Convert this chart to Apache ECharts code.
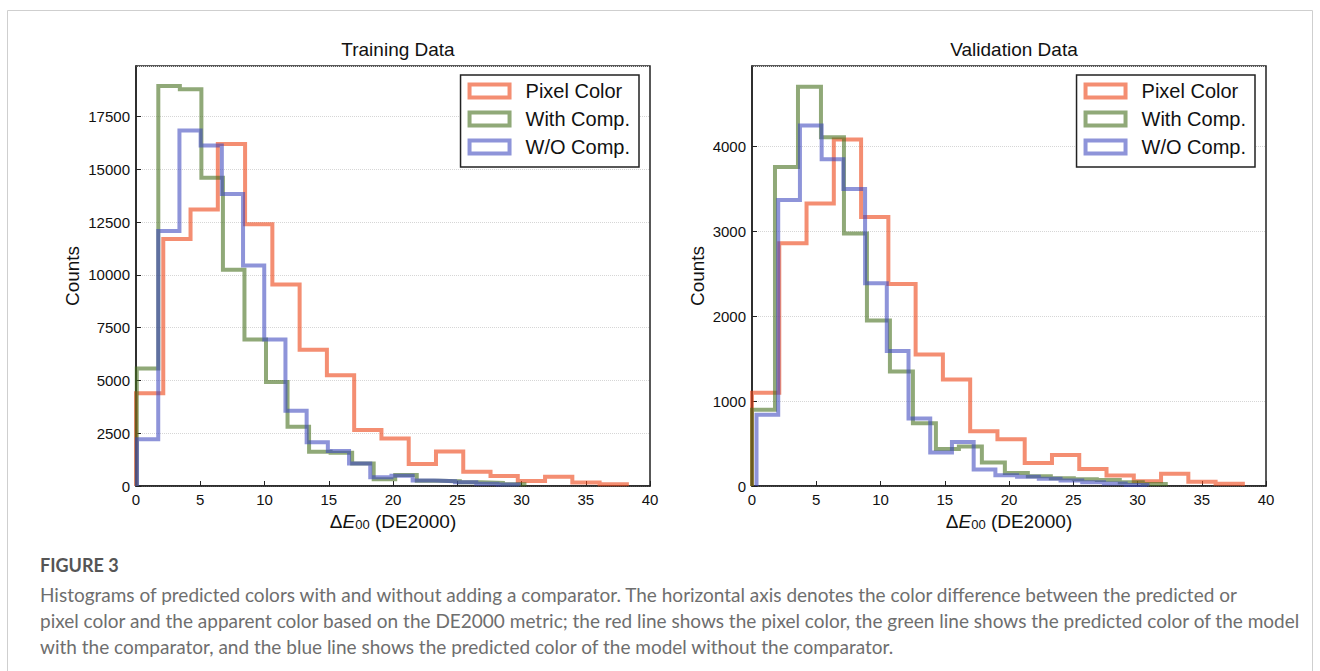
<!DOCTYPE html>
<html>
<head>
<meta charset="utf-8">
<script src="https://cdn.jsdelivr.net/npm/echarts@6/dist/echarts.min.js"></script>
<style>
html,body{margin:0;padding:0;background:#fff;}
#c{width:1320px;height:671px;}
</style>
</head>
<body>
<div id="c"></div>
<script>
// ---------- DATA ----------
const seriesNames = ['Pixel Color', 'With Comp.', 'W/O Comp.'];
const xTicks = [0, 5, 10, 15, 20, 25, 30, 35, 40];
const trainYTicks = [0, 2500, 5000, 7500, 10000, 12500, 15000, 17500];
const valYTicks = [0, 1000, 2000, 3000, 4000];

// Training data histograms: [min, max] of bin range and counts per bin (18 bins each)
const trainPixelRange = [0, 38.2];
const trainPixelCounts = [4400, 11700, 13100, 16200, 12400, 9550, 6450, 5250, 2650, 2250, 1040, 1630, 680, 470, 240, 440, 170, 80];
const trainWithRange = [0.06, 30.23];
const trainWithCounts = [5570, 18950, 18800, 14600, 10250, 6940, 4930, 2810, 1620, 1580, 1070, 320, 520, 250, 230, 180, 150, 80];
const trainWoRange = [0.08, 29.78];
const trainWoCounts = [2210, 12080, 16840, 16130, 13840, 10450, 6940, 3560, 2070, 1660, 1070, 410, 490, 260, 230, 180, 110, 70];

// Validation data histograms
const valPixelRange = [0, 38.2];
const valPixelCounts = [1100, 2860, 3330, 4085, 3170, 2380, 1550, 1255, 645, 550, 270, 365, 200, 125, 55, 143, 50, 26];
const valWithRange = [0, 32.2];
const valWithCounts = [900, 3760, 4705, 4110, 2975, 1950, 1350, 740, 435, 466, 278, 154, 115, 90, 80, 70, 45, 25];
const valWoRange = [0.35, 30.77];
const valWoCounts = [840, 3370, 4250, 3850, 3500, 2390, 1590, 797, 395, 520, 193, 126, 110, 85, 65, 45, 30, 12];

const colors = ['rgba(238,72,28,0.62)', 'rgba(70,112,30,0.6)', 'rgba(60,70,190,0.58)'];

// ---------- helpers ----------
function histPoints(range, counts) {
  const n = counts.length;
  const w = (range[1] - range[0]) / n;
  const pts = [[range[0], 0]];
  for (let i = 0; i < n; i++) pts.push([range[0] + i * w, counts[i]]);
  pts.push([range[1], counts[n - 1]]);
  pts.push([range[1], 0]);
  return pts;
}

const FONT = 'Liberation Sans, Arial, sans-serif';
const chart = echarts.init(document.getElementById('c'), null, {renderer: 'svg'});

function makeX(idx) {
  return {
    gridIndex: idx, type: 'value', min: 0, max: 40, interval: 5,
    name: '{d|Δ}{e|E}{s|00}{d| (DE2000)}', nameLocation: 'middle', nameGap: 21,
    nameTextStyle: {rich: {
      d: {fontSize: 19, fontFamily: FONT, color: '#111', verticalAlign: 'bottom', lineHeight: 22},
      e: {fontSize: 19, fontFamily: FONT, fontStyle: 'italic', color: '#111', verticalAlign: 'bottom', lineHeight: 22},
      s: {fontSize: 13, fontFamily: FONT, color: '#111', verticalAlign: 'bottom', lineHeight: 12}
    }},
    axisLine: {show: true, lineStyle: {color: '#222', width: 1.5}},
    axisTick: {show: true, inside: true, length: 5, lineStyle: {color: '#222', width: 1}},
    axisLabel: {fontSize: 15, fontFamily: FONT, color: '#111', margin: 6,
      formatter: v => xTicks.includes(v) ? String(v) : ''},
    splitLine: {show: false}
  };
}
function makeY(idx, max, interval, ticks, gap) {
  return {
    gridIndex: idx, type: 'value', min: 0, max: max, interval: interval,
    name: 'Counts', nameLocation: 'middle', nameGap: gap,
    nameTextStyle: {fontSize: 19, fontFamily: FONT, color: '#111'},
    axisLine: {show: true, lineStyle: {color: '#222', width: 1.5}},
    axisTick: {show: true, inside: true, length: 5, lineStyle: {color: '#222', width: 1}},
    axisLabel: {fontSize: 15, fontFamily: FONT, color: '#111', margin: 6, showMaxLabel: false,
      formatter: v => ticks.includes(v) ? String(v) : ''},
    splitLine: {show: true, lineStyle: {color: '#d6d6d6', width: 1, type: 'dotted'}}
  };
}
function makeSeries(name, xi, pts, color) {
  return {
    name: name, type: 'line', xAxisIndex: xi, yAxisIndex: xi, data: pts,
    step: 'end', showSymbol: false, symbol: 'none', animation: false,
    lineStyle: {color: color, width: 4, join: 'miter', cap: 'butt'},
    itemStyle: {color: color}
  };
}
function makeLegend(right) {
  return {
    orient: 'vertical', right: right, top: 75,
    itemWidth: 40, itemHeight: 13, itemGap: 8,
    padding: [6, 9, 10, 7],
    borderColor: '#222', borderWidth: 1.5, backgroundColor: '#fff',
    textStyle: {fontSize: 20, fontFamily: FONT, color: '#111', lineHeight: 20, padding: [0, 0, 0, 11]},
    data: seriesNames.map((n, i) => ({
      name: n, icon: 'rect',
      itemStyle: {color: 'rgba(0,0,0,0)', borderColor: colors[i], borderWidth: 4}
    }))
  };
}

const trainSets = [[trainPixelRange, trainPixelCounts], [trainWithRange, trainWithCounts], [trainWoRange, trainWoCounts]];
const valSets = [[valPixelRange, valPixelCounts], [valWithRange, valWithCounts], [valWoRange, valWoCounts]];

const series = [];
trainSets.forEach((s, i) => series.push(makeSeries(seriesNames[i], 0, histPoints(s[0], s[1]), colors[i])));
valSets.forEach((s, i) => series.push(makeSeries(seriesNames[i], 1, histPoints(s[0], s[1]), colors[i])));

const option = {
  backgroundColor: '#fff',
  animation: false,
  title: [
    {text: 'Training Data', left: 393, top: 35, textAlign: 'center',
     textStyle: {fontSize: 19, fontWeight: 'normal', fontFamily: FONT, color: '#111'}},
    {text: 'Validation Data', left: 1009, top: 35, textAlign: 'center',
     textStyle: {fontSize: 19, fontWeight: 'normal', fontFamily: FONT, color: '#111'}}
  ],
  grid: [
    {left: 136, top: 66, width: 514, height: 420, show: true, borderColor: '#222', borderWidth: 1.5, backgroundColor: 'transparent'},
    {left: 752, top: 66, width: 514, height: 420, show: true, borderColor: '#222', borderWidth: 1.5, backgroundColor: 'transparent'}
  ],
  xAxis: [makeX(0), makeX(1)],
  yAxis: [makeY(0, 19900, 2500, trainYTicks, 54), makeY(1, 4950, 1000, valYTicks, 45)],
  legend: [makeLegend(681), makeLegend(65)],
  series: series,
  graphic: [
    {type: 'rect', shape: {x: 7.5, y: 10.5, width: 1305, height: 700}, style: {fill: 'none', stroke: '#cfcfcf', lineWidth: 1}, silent: true},
    {type: 'text', x: 40, y: 565, style: {text: 'FIGURE 3', font: 'bold 18px Lato, "Open Sans", sans-serif', fill: '#555', verticalAlign: 'middle'}},
    {type: 'text', x: 40, y: 594, style: {text: 'Histograms of predicted colors with and without adding a comparator. The horizontal axis denotes the color difference between the predicted or', font: '19px Lato, "Open Sans", sans-serif', fill: '#6e6e6e', verticalAlign: 'middle'}},
    {type: 'text', x: 40, y: 620.5, style: {text: 'pixel color and the apparent color based on the DE2000 metric; the red line shows the pixel color, the green line shows the predicted color of the model', font: '19px Lato, "Open Sans", sans-serif', fill: '#6e6e6e', verticalAlign: 'middle'}},
    {type: 'text', x: 40, y: 646.5, style: {text: 'with the comparator, and the blue line shows the predicted color of the model without the comparator.', font: '19px Lato, "Open Sans", sans-serif', fill: '#6e6e6e', verticalAlign: 'middle'}}
  ]
};
chart.setOption(option);
</script>
</body>
</html>
